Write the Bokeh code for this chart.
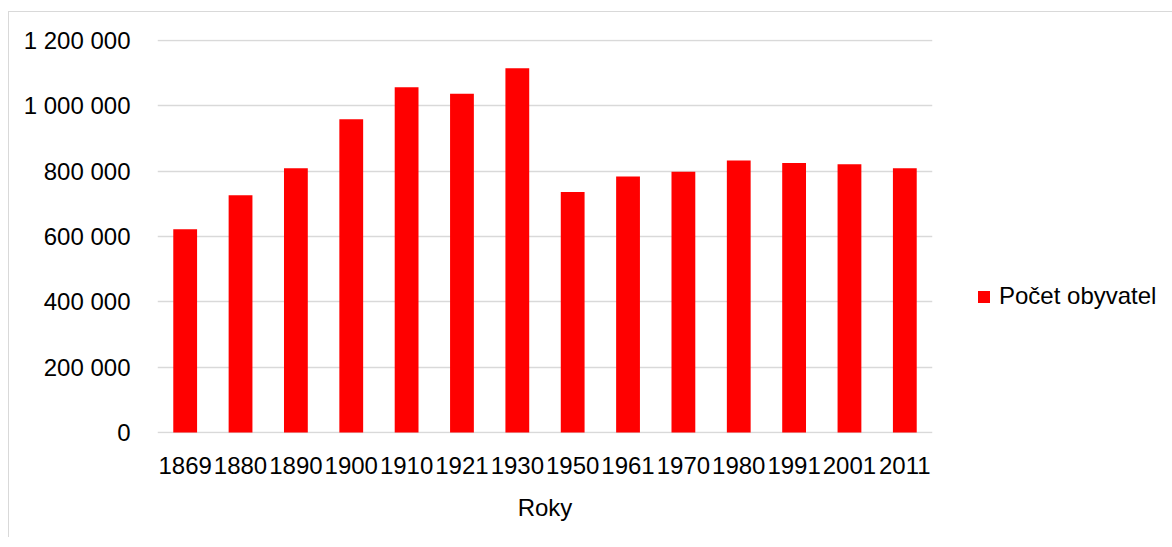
from bokeh.plotting import figure
from bokeh.models import ColumnDataSource, FixedTicker, Legend, LegendItem, FactorRange, Range1d
from bokeh.embed import file_html
from bokeh.resources import INLINE

years = ["1869", "1880", "1890", "1900", "1910", "1921", "1930",
         "1950", "1961", "1970", "1980", "1991", "2001", "2011"]
population = [622000, 726000, 809000, 959000, 1057000, 1037000, 1115000,
              736000, 784000, 798000, 833000, 825000, 821000, 809000]
y_ticks = [0, 200000, 400000, 600000, 800000, 1000000, 1200000]
y_tick_labels = ["0", "200 000", "400 000", "600 000", "800 000", "1 000 000", "1 200 000"]
series_name = "Počet obyvatel"
x_title = "Roky"

FONT = "Liberation Sans"
TXT = "#000000"

src = ColumnDataSource(dict(x=years, y=population))

p = figure(x_range=FactorRange(factors=years, range_padding=0),
           y_range=Range1d(-3000, 1203000),
           frame_width=775, frame_height=394, output_backend="svg", toolbar_location=None,
           min_border_left=148, min_border_right=0, min_border_top=27, min_border_bottom=104)
p.margin = (11, 0, 0, 8)
p.styles = {"border-top": "1px solid #d9d9d9", "border-left": "1px solid #d9d9d9"}
p.outline_line_color = None
p.background_fill_color = "white"
p.border_fill_color = "white"

r = p.vbar(x="x", top="y", bottom=0, width=0.43, source=src, fill_color="#ff0000", line_color=None)

p.yaxis.ticker = FixedTicker(ticks=y_ticks)
p.yaxis.major_label_overrides = {t: l for t, l in zip(y_ticks, y_tick_labels)}
for ax in (p.xaxis[0], p.yaxis[0]):
    ax.axis_line_color = None
    ax.major_tick_line_color = None
    ax.minor_tick_line_color = None
    ax.major_tick_out = 0
    ax.major_tick_in = 0
    ax.major_label_text_font = FONT
    ax.major_label_text_font_size = "24px"
    ax.major_label_text_color = TXT
p.yaxis.major_label_standoff = 27
p.xaxis.major_label_standoff = 23
p.xaxis.axis_label = x_title
p.xaxis.axis_label_text_font = FONT
p.xaxis.axis_label_text_font_size = "24px"
p.xaxis.axis_label_text_font_style = "normal"
p.xaxis.axis_label_text_color = TXT
p.xaxis.axis_label_standoff = 17

p.xgrid.grid_line_color = None
p.ygrid.grid_line_color = "#d9d9d9"
p.ygrid.grid_line_width = 1.5

legend = Legend(items=[LegendItem(label=series_name, renderers=[r])],
                location=(44, 123), padding=0, margin=0, spacing=0,
                glyph_width=15, glyph_height=15, label_standoff=8,
                label_text_font=FONT, label_text_font_size="24px", label_text_color=TXT,
                border_line_color=None, background_fill_alpha=0)
p.add_layout(legend, "right")

open("out.html", "w").write(file_html(p, INLINE))
